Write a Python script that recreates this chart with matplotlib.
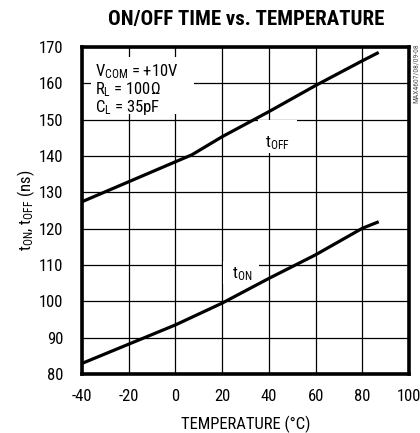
import matplotlib
matplotlib.use("Agg")
import matplotlib.pyplot as plt
from matplotlib.patches import Rectangle
from matplotlib import font_manager as fm

temp_off = [-40, -20, 0, 7, 20, 40, 60, 80, 87]
t_off = [127.4, 132.9, 138.4, 140.3, 145.3, 152.2, 159.4, 166.2, 168.5]
temp_on = [-40, -20, 0, 20, 40, 60, 80, 87]
t_on = [82.9, 88.2, 93.5, 99.5, 106.3, 112.8, 120.1, 121.9]
xticks = [-40, -20, 0, 20, 40, 60, 80, 100]
yticks = [80, 90, 100, 110, 120, 130, 140, 150, 160, 170]

# find a condensed / narrow sans font if one is installed
fam, stretch = "Liberation Sans", "normal"
narrow = ("condensed", "semi-condensed", "extra-condensed", "ultra-condensed")
cands = []
for f in fm.fontManager.ttflist:
    st = f.stretch if isinstance(f.stretch, str) else str(f.stretch)
    if ("Narrow" in f.name or "Condensed" in f.name or st in narrow) and "Mono" not in f.name \
            and "Serif" not in f.name:
        cands.append((f.name, st))
pref = ["Liberation Sans Narrow", "Arial Narrow", "Roboto Condensed", "Open Sans Condensed",
        "DejaVu Sans Condensed", "DejaVu Sans"]
cands.sort(key=lambda c: pref.index(c[0]) if c[0] in pref else len(pref))
if cands:
    fam, stretch = cands[0]

plt.rcParams["font.family"] = [fam, "Liberation Sans", "DejaVu Sans"]
plt.rcParams["font.stretch"] = stretch
plt.rcParams["mathtext.fontset"] = "custom"
plt.rcParams["mathtext.rm"] = f"{fam}:stretch={stretch}"
plt.rcParams["mathtext.default"] = "regular"

FS = 12
fig = plt.figure(figsize=(4.2, 4.33), dpi=100)
ax = fig.add_axes([0.195, 0.1363, 0.779, 0.7552])
ax.set_xlim(-40, 100)
ax.set_ylim(80, 170)
ax.set_xticks(xticks)
ax.set_yticks(yticks)
ax.set_xticklabels([str(v) for v in xticks], fontsize=FS)
ax.set_yticklabels([str(v) for v in yticks], fontsize=FS)
ax.tick_params(axis="x", length=0, pad=10.5)
ax.tick_params(axis="y", length=0, pad=13.5)
ax.grid(True, color="black", lw=0.9)
ax.set_axisbelow(True)
for s in ax.spines.values():
    s.set_linewidth(2.6)

# white label backgrounds
ax.add_patch(Rectangle((-36, 151.5), 44, 15.8, facecolor="white", edgecolor="none", zorder=1.5))
ax.add_patch(Rectangle((35.5, 140.7), 16.5, 9.2, facecolor="white", edgecolor="none", zorder=1.5))
ax.add_patch(Rectangle((20.5, 104.8), 15.2, 6.2, facecolor="white", edgecolor="none", zorder=1.5))

ax.plot(temp_off, t_off, color="black", lw=2.3, solid_capstyle="butt", zorder=3)
ax.plot(temp_on, t_on, color="black", lw=2.3, solid_capstyle="butt", zorder=3)

ax.text(-34.5, 163.3, r"V$_{COM}$ = +10V", fontsize=FS, va="center", ha="left", zorder=4)
ax.text(-34.5, 158.3, r"R$_L$ = 100Ω", fontsize=FS, va="center", ha="left", zorder=4)
ax.text(-34.5, 153.3, r"C$_L$ = 35pF", fontsize=FS, va="center", ha="left", zorder=4)
ax.text(43.8, 143.4, r"t$_{OFF}$", fontsize=FS, va="center", ha="center", zorder=4)
ax.text(28.5, 107.4, r"t$_{ON}$", fontsize=FS, va="center", ha="center", zorder=4)

ax.set_xlabel("TEMPERATURE (°C)", fontsize=FS, labelpad=9)
ax.set_ylabel(r"t$_{ON}$, t$_{OFF}$ (ns)", fontsize=FS, labelpad=1.5)

fig.text(0.585, 0.955, "ON/OFF TIME vs. TEMPERATURE", fontsize=15, fontweight="bold",
         ha="center", va="center")
fig.text(0.99, 0.83, "MAX4607/08/09-08", fontsize=5.5, color="#555555", rotation=90,
         ha="center", va="center")

fig.savefig("out.png", dpi=100)
